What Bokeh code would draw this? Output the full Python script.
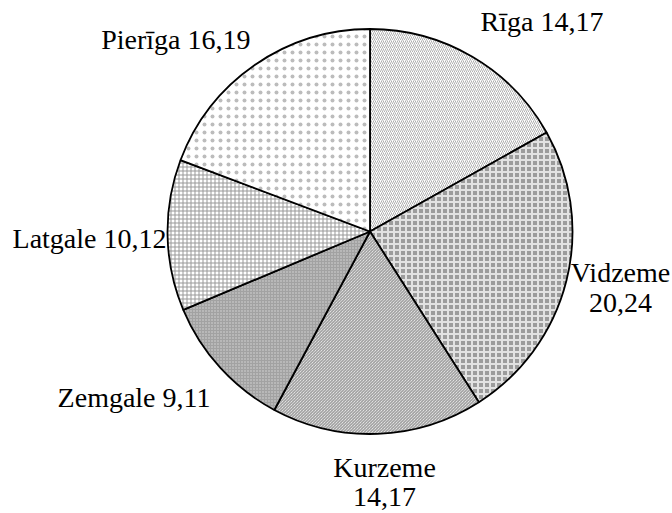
import math
from bokeh.plotting import figure
from bokeh.models import Range1d
from bokeh.core.properties import value
from bokeh.embed import file_html
from bokeh.resources import INLINE

# data
regions = ["Rīga", "Vidzeme", "Kurzeme", "Zemgale", "Latgale", "Pierīga"]
values = [14.17, 20.24, 14.17, 9.11, 10.12, 16.19]

# styles (per slice)
fills = ["#ffffff", "#9c9c9c", "#ffffff", "#a2a2a2", "#ffffff", "#ffffff"]
hatches = ["/", "+", "\\", ".", "+", "."]
hatch_colors = ["#b0b0b0", "#e2e2e2", "#8a8a8a", "#dadada", "#999999", "#bcbcbc"]
hatch_scales = [4, 6, 3, 3, 4, 8]
hatch_weights = [1, 2, 1, 1, 1, 0.8]

W, H = 672, 513
p = figure(width=W, height=H, output_backend="svg", toolbar_location=None,
           x_range=Range1d(0, W), y_range=Range1d(0, H),
           min_border=0, outline_line_color=None)
p.axis.visible = False
p.grid.visible = False
p.background_fill_color = "white"
p.border_fill_color = "white"

def sy(y):  # page y -> data y
    return H - y

cx, cy, r = 369.5, sy(231), 202.5
total = sum(values)
start = math.pi / 2
for i, v in enumerate(values):
    ang = 2 * math.pi * v / total
    end = start - ang
    p.wedge(x=cx, y=cy, radius=r, start_angle=start, end_angle=end, direction="clock",
            fill_color=fills[i], hatch_pattern=hatches[i], hatch_color=hatch_colors[i],
            hatch_scale=hatch_scales[i], hatch_weight=hatch_weights[i],
            line_color="black", line_width=1.8)
    start = end

def fmt(v):
    return f"{v:.2f}".replace(".", ",")

font = value("'Liberation Serif', 'Times New Roman', serif")
fs = "28px"
# label layout (page coords)
lab = [
    (regions[0] + " " + fmt(values[0]), 480, 21, "left"),
    (regions[1], 620, 272, "center"),
    (fmt(values[1]), 620, 302, "center"),
    (regions[2], 384, 467, "center"),
    (fmt(values[2]), 384, 496, "center"),
    (regions[3] + " " + fmt(values[3]), 210, 397, "right"),
    (regions[4] + " " + fmt(values[4]), 166, 238, "right"),
    (regions[5] + " " + fmt(values[5]), 250, 39, "right"),
]
for t, x, y, al in lab:
    p.text(x=[x], y=[sy(y)], text=[t], text_font=font, text_font_size=fs,
           text_align=al, text_baseline="middle", text_color="black")

open("out.html", "w").write(file_html(p, INLINE))
